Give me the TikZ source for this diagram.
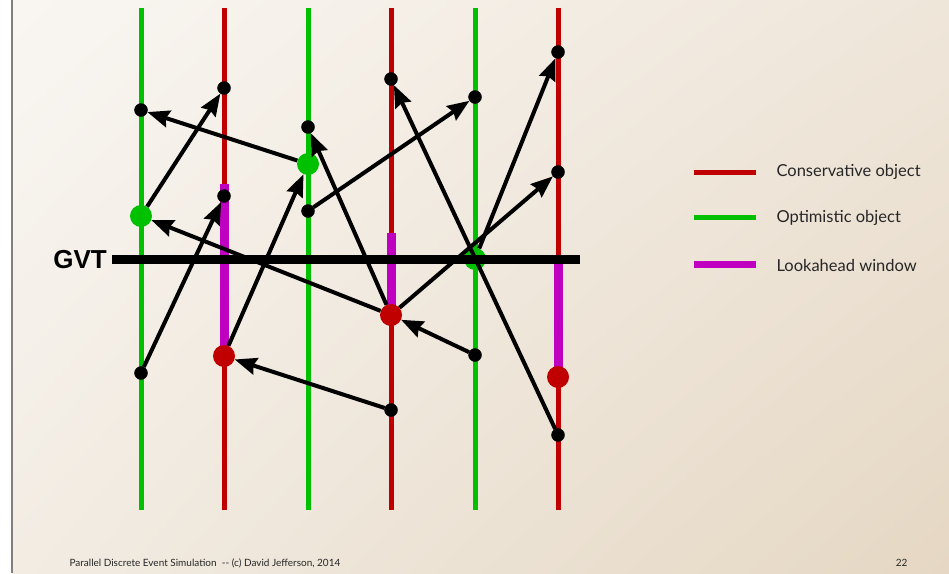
\documentclass[tikz,border=0pt]{standalone}
\usepackage{fontspec}
\setmainfont{Lato}
\newfontfamily\gvtfont{Liberation Sans}
\usetikzlibrary{arrows.meta,shadings}
\definecolor{consred}{HTML}{C00000}
\definecolor{optgreen}{HTML}{00C000}
\definecolor{lookmag}{HTML}{C000C0}
\definecolor{bgtl}{HTML}{F9F6F2}
\definecolor{bgtr}{HTML}{EFE6DA}
\definecolor{bgbl}{HTML}{F2ECE3}
\definecolor{bgbr}{HTML}{E5D7C3}
\tikzset{
  cons/.style={consred, line width=5pt},
  opt/.style={optgreen, line width=5pt},
  look/.style={lookmag, line width=9pt},
  sdot/.style={circle, fill=black, draw=black, inner sep=0pt, minimum size=13pt},
  ldot/.style={circle, inner sep=0pt, minimum size=22pt},
  msg/.style={line width=4pt, -{Stealth[length=22pt,width=17pt,inset=2.5pt]}},
  legtext/.style={anchor=west, font=\fontsize{16.5}{19}\selectfont, text=black!85},
}
\begin{document}
\begin{tikzpicture}[x=1pt,y=-1pt]
\useasboundingbox (0,0) rectangle (949,573);
% background
\fill[white] (0,0) rectangle (12,573);
\shade[upper left=bgtl, upper right=bgtr, lower left=bgbl, lower right=bgbr] (12,0) rectangle (949,573);
\draw[gray, line width=2pt] (12,0) -- (12,573);
% object lines
\draw[opt]  (141,8) -- (141,510);
\draw[cons] (224,8) -- (224,510);
\draw[opt]  (308,8) -- (308,510);
\draw[cons] (391,8) -- (391,510);
\draw[opt]  (475,8) -- (475,510);
\draw[cons] (558,8) -- (558,510);
% lookahead windows
\draw[look] (224,184) -- (224,356);
\draw[look] (391,233) -- (391,315);
\draw[look] (558,260) -- (558,377);
% events
\node[sdot] (A1) at (141,110) {};
\node[sdot] (B1) at (224,88) {};
\node[sdot] (C1) at (308,127) {};
\node[sdot] (D1) at (391,79) {};
\node[sdot] (E1) at (475,97) {};
\node[sdot] (F1) at (558,52) {};
\node[sdot] (F2) at (558,172) {};
\node[sdot] (C3) at (308,211) {};
\node[sdot] (B2) at (224,196) {};
\node[sdot] (A3) at (141,373) {};
\node[sdot] (E3) at (475,355) {};
\node[sdot] (D3) at (391,410) {};
\node[sdot] (F4) at (558,435) {};
\node[ldot, fill=optgreen] (C2) at (308,164) {};
\node[ldot, fill=optgreen] (A2) at (141,216) {};
\node[ldot, fill=optgreen] (E2) at (475,259) {};
\node[ldot, fill=consred] (D2) at (391,315) {};
\node[ldot, fill=consred] (B3) at (224,356) {};
\node[ldot, fill=consred] (F3) at (558,377) {};
% GVT
\coordinate (gvtL) at (112,259);
\coordinate (gvtR) at (580,259);
\draw[line width=9pt] (gvtL) -- (gvtR);
\node[anchor=east, inner sep=0pt, font=\gvtfont\bfseries\fontsize{26}{30}\selectfont] (gvt) at (107,260) {GVT};
% messages
\draw[msg] (A2) -- (B1);
\draw[msg] (C2) -- (A1);
\draw[msg] (A3) -- (B2);
\draw[msg] (B3) -- (C2);
\draw[msg] (D2) -- (C1);
\draw[msg] (C3) -- (E1);
\draw[msg] (D2) -- (A2);
\draw[msg] (F4) -- (D1);
\draw[msg] (E2) -- (F1);
\draw[msg] (D2) -- (F2);
\draw[msg] (E3) -- (D2);
\draw[msg] (D3) -- (B3);
% legend
\coordinate (l1a) at (694,172); \coordinate (l1b) at (756,172);
\coordinate (l2a) at (694,217); \coordinate (l2b) at (756,217);
\coordinate (l3a) at (694,264); \coordinate (l3b) at (756,264);
\draw[cons] (l1a) -- (l1b);
\draw[opt] (l2a) -- (l2b);
\draw[lookmag, line width=7pt] (l3a) -- (l3b);
\node[legtext] (t1) at (773,172) {Conservative object};
\node[legtext] (t2) at (773,218) {Optimistic object};
\node[legtext] (t3) at (773,265) {Lookahead window};
% footer
\node[anchor=west, font=\fontsize{10}{12}\selectfont, text=black!85] (foot) at (66,563) {Parallel Discrete Event Simulation\ \ {-}{-} (c) David Jefferson, 2014};
\node[anchor=east, font=\fontsize{10}{12}\selectfont, text=black!85] (page) at (911,563) {22};
\end{tikzpicture}
\end{document}
